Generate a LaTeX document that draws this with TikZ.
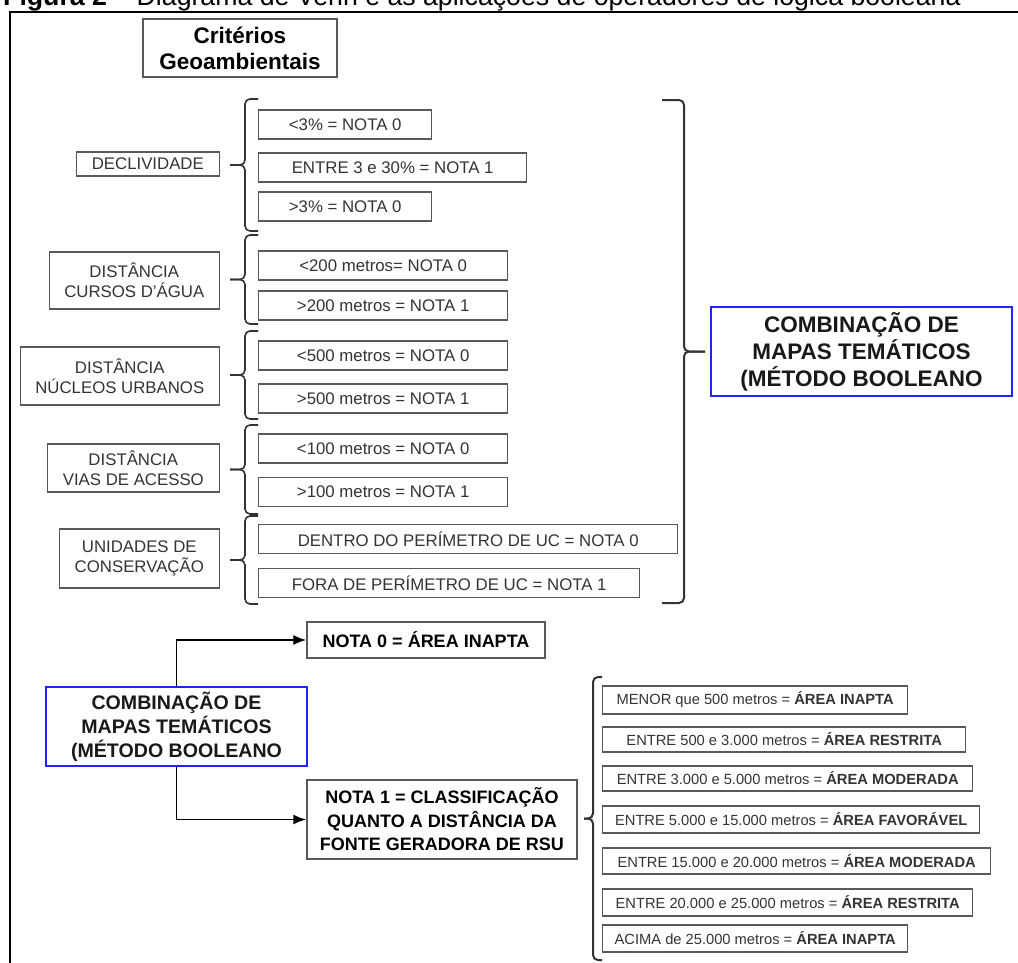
\documentclass[tikz,border=0pt]{standalone}
\usepackage{fontspec}
\setmainfont{Liberation Sans}
\usetikzlibrary{arrows.meta}
\definecolor{azulborda}{RGB}{35,35,245}
\def\chave[#1](#2:#3:#4)(#5:#6)% Syntax: [draw options] (hook x:spine x:tip x) (top y:bottom y)
{ \draw[#1] (#2,#5) -- (#3,#5) -- (#3,{(#5+#6)/2}) -- (#4,{(#5+#6)/2});
  \draw[#1] (#2,#6) -- (#3,#6) -- (#3,{(#5+#6)/2}) -- (#4,{(#5+#6)/2}); }
\tikzset{
	caixa/.style={draw=black!65, line width=1.4pt, text=black!80, inner sep=0pt, align=center, font=\fontsize{16.8}{20}\selectfont},
	rotulo/.style={caixa, anchor=east},
	opcao/.style={caixa, anchor=west, minimum height=29pt},
	faixa/.style={caixa, anchor=west, font=\fontsize{14.7}{17}\selectfont},
	nota/.style={caixa, text=black, font=\bfseries\fontsize{18}{23.5}\selectfont},
	combina/.style={draw=azulborda, line width=2.2pt, inner sep=0pt, align=center, text=black!90},
	chaveta/.style={line width=1.6pt, black!80, rounded corners=5pt},
	seta/.style={->, >={Latex[length=13pt,width=10pt]}, line width=1.8pt},
}
\begin{document}
\begin{tikzpicture}[x=1pt, y=-1pt]
	\useasboundingbox (0,0) rectangle (1018,962);
	
	%frame and caption (cut at the top)
	\draw[line width=2.5pt] (10,975) -- (10,12) -- (1030,12);
	\node[anchor=base west, inner sep=0pt, font=\fontsize{26.7}{30}\selectfont] (legenda) at (3,5) {\textbf{Figura 2} – Diagrama de Venn e as aplicações de operadores de lógica booleana};
	
	\node[caixa, text=black, font=\bfseries\fontsize{22.5}{26}\selectfont, minimum width=194pt, minimum height=58pt] (criterios) at (240,48) {Critérios\\Geoambientais};
	
	%criteria
	\node[rotulo, minimum width=143pt, minimum height=24pt] (declividade) at (220,164) 	{DECLIVIDADE};
	\node[rotulo, minimum width=170pt, minimum height=57pt] (cursos) at (220,280.5) 	{DISTÂNCIA\\CURSOS D'ÁGUA};
	\node[rotulo, minimum width=199pt, minimum height=58pt] (nucleos) at (220,376) 		{DISTÂNCIA\\NÚCLEOS URBANOS};
	\node[rotulo, minimum width=172pt, minimum height=48pt] (vias) at (220,468) 		{DISTÂNCIA\\VIAS DE ACESSO};
	\node[rotulo, minimum width=160pt, minimum height=59pt] (unidades) at (220,558.5) 	{UNIDADES DE\\CONSERVAÇÃO};
	
	%scores
	\node[opcao, minimum width=173pt] (decl0) at (258,124.5) 	{<3\% = NOTA 0};
	\node[opcao, minimum width=268pt] (decl1) at (258,167.5) 	{ENTRE 3 e 30\% = NOTA 1};
	\node[opcao, minimum width=173pt] (decl2) at (258,206.5) 	{>3\% = NOTA 0};
	\node[opcao, minimum width=249pt] (curso0) at (258,265.5) 	{<200 metros= NOTA 0};
	\node[opcao, minimum width=249pt] (curso1) at (258,305.5) 	{>200 metros = NOTA 1};
	\node[opcao, minimum width=249pt] (nucleo0) at (258,355.5) 	{<500 metros = NOTA 0};
	\node[opcao, minimum width=249pt] (nucleo1) at (258,398.5) 	{>500 metros = NOTA 1};
	\node[opcao, minimum width=249pt] (via0) at (258,448.5) 	{<100 metros = NOTA 0};
	\node[opcao, minimum width=249pt] (via1) at (258,492) 		{>100 metros = NOTA 1};
	\node[opcao, minimum width=419pt] (uc0) at (258,539) 		{DENTRO DO PERÍMETRO DE UC = NOTA 0};
	\node[opcao, minimum width=381pt] (uc1) at (258,583) 		{FORA DE PERÍMETRO DE UC = NOTA 1};
	
	%braces
	\chave[chaveta](258:245:230)(99:231)	%declividade
	\chave[chaveta](258:245:230)(235:324)	%cursos
	\chave[chaveta](258:245:230)(331:419)	%nucleos
	\chave[chaveta](258:245:230)(425:514)	%vias
	\chave[chaveta](258:245:230)(516:604)	%unidades
	\chave[chaveta, line width=2pt](662:684:705)(100:603)	%all criteria
	\chave[chaveta, line width=2pt](602:593:584)(677:960)	%distance classes
	
	\node[combina, font=\bfseries\fontsize{22.5}{27}\selectfont, minimum width=301pt, minimum height=89pt] (comb1) at (861.5,351.5) {COMBINAÇÃO DE\\MAPAS TEMÁTICOS\\(MÉTODO BOOLEANO};
	
	%result
	\node[combina, font=\bfseries\fontsize{19.6}{24}\selectfont, minimum width=261pt, minimum height=79pt] (comb2) at (176.5,726.5) {COMBINAÇÃO DE\\MAPAS TEMÁTICOS\\(MÉTODO BOOLEANO};
	\node[nota, minimum width=238pt, minimum height=36pt] (nota0) at (426,640) {NOTA 0 = ÁREA INAPTA};
	\node[nota, minimum width=270pt, minimum height=79pt] (nota1) at (442,819.5) {NOTA 1 = CLASSIFICAÇÃO\\QUANTO A DISTÂNCIA DA\\FONTE GERADORA DE RSU};
	\draw[seta] (comb2.north) |- (nota0.west);
	\draw[seta] (comb2.south) |- (nota1.west);
	
	%distance classes
	\node[faixa, minimum width=305pt, minimum height=28pt] (faixa1) at (602,700) 	{MENOR que 500 metros = \textbf{ÁREA INAPTA}};
	\node[faixa, minimum width=363pt, minimum height=25pt] (faixa2) at (602,739.5) 	{ENTRE 500 e 3.000 metros = \textbf{ÁREA RESTRITA}};
	\node[faixa, minimum width=370pt, minimum height=25pt] (faixa3) at (602,778.5) 	{ENTRE 3.000 e 5.000 metros = \textbf{ÁREA MODERADA}};
	\node[faixa, minimum width=377pt, minimum height=27pt] (faixa4) at (602,819.5) 	{ENTRE 5.000 e 15.000 metros = \textbf{ÁREA FAVORÁVEL}};
	\node[faixa, minimum width=388pt, minimum height=26pt] (faixa5) at (602,861) 	{ENTRE 15.000 e 20.000 metros = \textbf{ÁREA MODERADA}};
	\node[faixa, minimum width=370pt, minimum height=27pt] (faixa6) at (602,902.5) 	{ENTRE 20.000 e 25.000 metros = \textbf{ÁREA RESTRITA}};
	\node[faixa, minimum width=305pt, minimum height=27pt] (faixa7) at (602,938.5) 	{ACIMA de 25.000 metros = \textbf{ÁREA INAPTA}};
\end{tikzpicture}
\end{document}
